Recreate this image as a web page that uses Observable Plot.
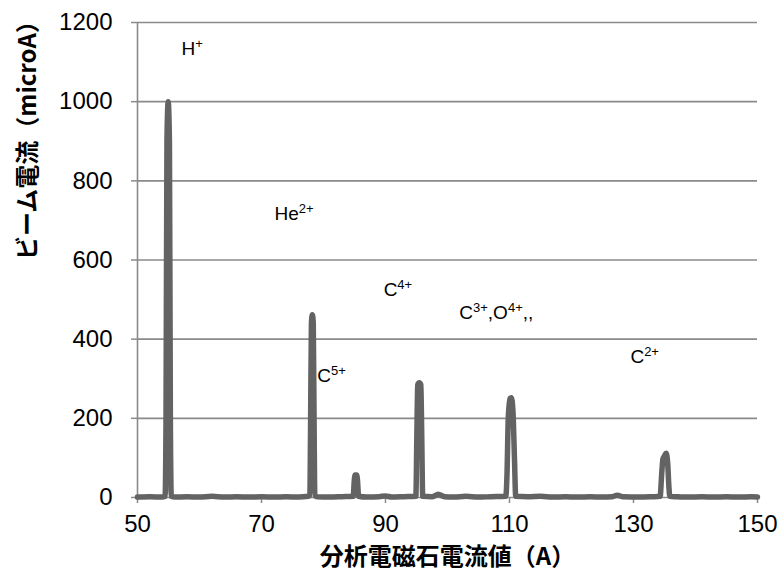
<!DOCTYPE html>
<html><head><meta charset="utf-8">
<script src="https://cdn.jsdelivr.net/npm/d3@7"></script>
<script src="https://cdn.jsdelivr.net/npm/@observablehq/plot@0.6"></script>
<style>
body{margin:0;background:#fff}
</style>
</head><body><div id="chart"></div>
<script>
// magnet current (A)
const current = [50,52,54,54.45,54.6,54.75,54.95,55.15,55.3,55.45,56,58,60,62,64,66,68,70,72,74,76,77.5,77.8,77.9,78.05,78.2,78.35,78.5,78.6,79,81,83,84.8,84.95,85.1,85.35,85.5,85.65,87,89,90,91,93,94.9,95.05,95.2,95.45,95.7,95.85,96.0,97.5,98.5,99.5,101,103,105,107,109.4,109.6,109.8,110.1,110.3,110.55,110.8,111.0,113,115,117,119,121,123,125,126.5,127.4,128.3,131,133,134.3,134.55,134.75,135.0,135.25,135.5,135.7,135.85,137,139,141,143,145,147,149,150];
// beam current (microA)
const beam = [1,2,1,3,200,900,1000,900,200,3,1,2,1,3,1,2,1,2,1,2,1,3,5,150,440,462,440,150,5,2,1,2,3,40,57,57,40,3,1,2,4,1,2,3,150,285,290,285,150,3,2,8,2,1,3,1,2,3,60,200,250,252,220,100,3,2,3,1,2,1,2,1,2,6,2,1,2,3,60,98,105,112,90,30,3,2,1,2,1,2,1,2,1];

const xTicks = [50,70,90,110,130,150];
const yTicks = [0,200,400,600,800,1000,1200];

const ionLabels = ["H^+","He^2+","C^5+","C^4+","C^3+,O^4+,,","C^2+"];
const ionX = [57.1,72.1,79.0,89.7,101.9,129.5];
const ionY = [1119,700,293,510,452,341];

const xTitle = "分析電磁石電流値（A）";
const yTitle = "ビーム電流（microA）";

const data = current.map((c,i)=>({c, b: beam[i]}));
const labels = ionLabels.map((t,i)=>({t, x: ionX[i], y: ionY[i]}));

const gridColor = "#8a8a8a";
const plot = Plot.plot({
  width: 783,
  height: 581,
  marginLeft: 137,
  marginRight: 26,
  marginTop: 22,
  marginBottom: 84,
  style: {fontFamily: "'Liberation Sans', Arial, sans-serif", fontSize: "24px", color: "#000", background: "#fff"},
  x: {domain: [50,150]},
  y: {domain: [0,1200]},
  marks: [
    Plot.ruleY(yTicks.filter(d=>d>0), {stroke: gridColor, strokeWidth: 1.6}),
    Plot.ruleX([50], {stroke: gridColor, strokeWidth: 1.6}),
    Plot.ruleY([0], {stroke: gridColor, strokeWidth: 1.6}),
    Plot.axisX({ticks: xTicks, tickSize: 6, tickPadding: 11, stroke: gridColor, strokeWidth: 1.5, label: null, fontSize: 24, fill: "#000", tickFormat: d=>String(d)}),
    Plot.axisY({ticks: yTicks, tickSize: 6, tickPadding: 19, stroke: gridColor, strokeWidth: 1.5, label: null, fontSize: 24, fill: "#000", tickFormat: d=>String(d)}),
    Plot.line(data, {x: "c", y: "b", stroke: "#636363", strokeWidth: 5.5, curve: "monotone-x", strokeLinejoin: "round", strokeLinecap: "round"}),
    Plot.text(labels, {x: "x", y: "y", text: "t", textAnchor: "start", lineAnchor: "bottom", fontSize: 19, fill: "#000"}),
    Plot.text([xTitle], {frameAnchor: "bottom", dy: 60, text: d=>d, fontSize: 24, fontWeight: "bold", fill: "#000", fontFamily: "'Noto Sans CJK JP', sans-serif", lineAnchor: "middle"}),
    Plot.text([yTitle], {frameAnchor: "left", dx: -109, rotate: -90, text: d=>d, fontSize: 24, fontWeight: "bold", fill: "#000", fontFamily: "'Noto Sans CJK JP', sans-serif", lineAnchor: "middle"})
  ]
});

// convert "^" markers into superscript tspans
d3.select(plot).selectAll("text").each(function(){
  const s = this.textContent;
  if (!s.includes("^")) return;
  const el = d3.select(this);
  el.text(null);
  const parts = s.split(/(\^[0-9]*\+)/).filter(p => p);
  let raised = false;
  for (const p of parts) {
    if (p.startsWith("^")) {
      el.append("tspan").attr("dy", "-7").attr("font-size", "13px").text(p.slice(1));
      raised = true;
    } else {
      const t = el.append("tspan").text(p);
      if (raised) { t.attr("dy", "7"); raised = false; }
    }
  }
});
document.getElementById("chart").appendChild(plot);
</script>
</body></html>
